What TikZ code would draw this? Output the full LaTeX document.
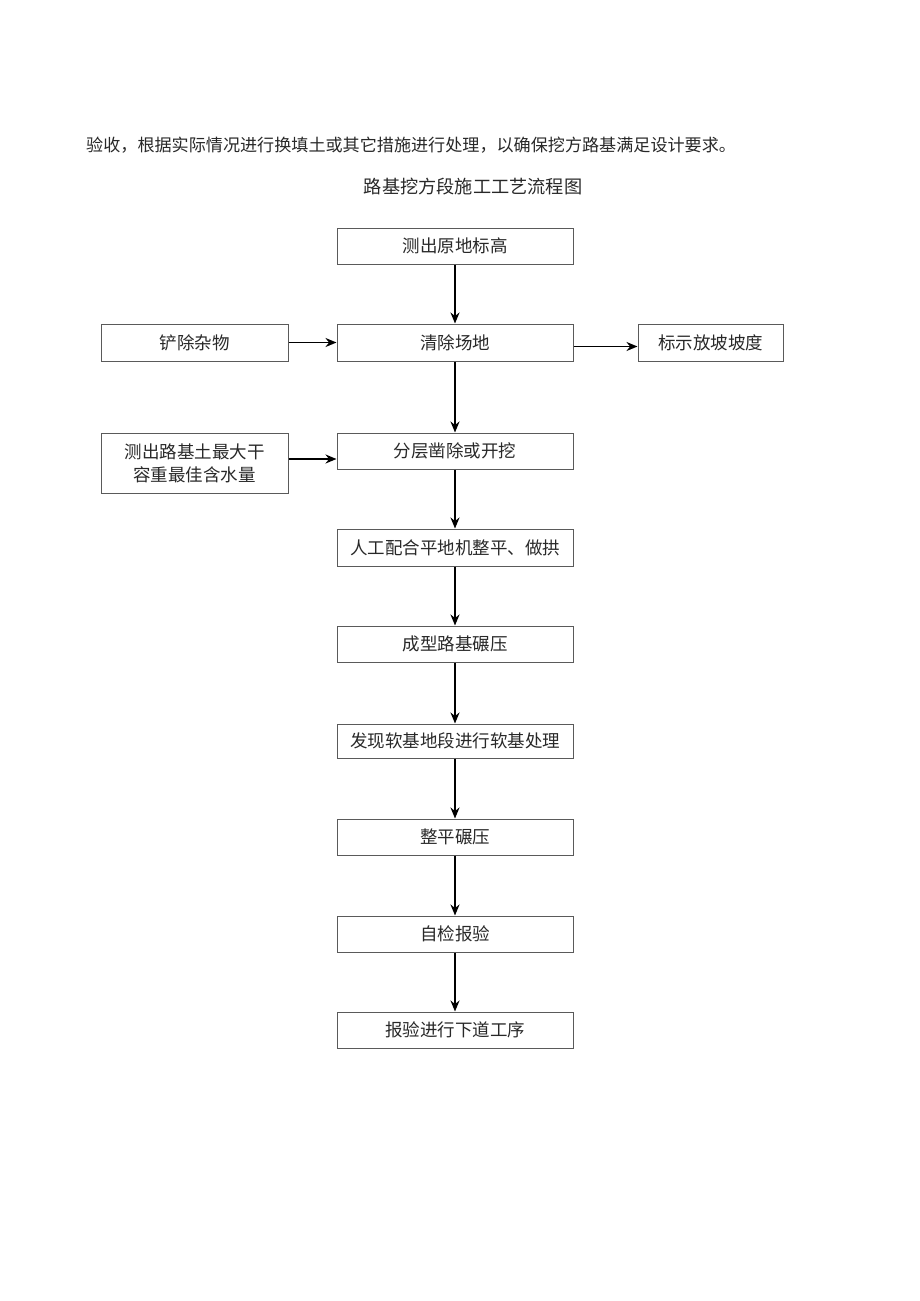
\documentclass[tikz,border=0pt]{standalone}
\usepackage{fontspec}
\newfontfamily\cjk{Noto Sans CJK SC}
\usetikzlibrary{arrows.meta}
\definecolor{boxline}{RGB}{90,90,90}
\definecolor{txt}{RGB}{40,40,40}
\begin{document}
\begin{tikzpicture}[x=1pt,y=-1pt,
    box/.style={draw=boxline, line width=1pt, minimum width=236pt, minimum height=36pt, inner sep=0pt, align=center, text=txt, font=\cjk\fontsize{17.5}{23}\selectfont},
    sidebox/.style={box, minimum width=187pt},
    flow/.style={-{Stealth[length=11pt,width=9pt]}, line width=1.8pt, black}]
    \useasboundingbox (0,0) rectangle (920,1301);

    % Text Node
    \node (intro) [anchor=west, inner sep=0pt, text=txt, font=\cjk\fontsize{17.1}{20}\selectfont] at (86,145) {验收，根据实际情况进行换填土或其它措施进行处理，以确保挖方路基满足设计要求。};
    % Text Node
    \node (title) [inner sep=0pt, text=txt, font=\cjk\fontsize{18.2}{20}\selectfont] at (473,187) {路基挖方段施工工艺流程图};

    % main column
    \node (ycg) [box] at (455,246) {测出原地标高};
    \node (qccd) [box, minimum height=37pt] at (455,342.5) {清除场地};
    \node (fckw) [box] at (455,451) {分层凿除或开挖};
    \node (rgph) [box, minimum height=37pt] at (455,547.5) {人工配合平地机整平、做拱};
    \node (cxny) [box] at (455,644) {成型路基碾压};
    \node (rjcl) [box, minimum height=34pt] at (455,741) {发现软基地段进行软基处理};
    \node (zpny) [box] at (455,837) {整平碾压};
    \node (zjby) [box] at (455,934) {自检报验};
    \node (xdgx) [box] at (455,1030) {报验进行下道工序};

    % side boxes
    \node (cczw) [sidebox, minimum height=37pt] at (194.5,342.5) {铲除杂物};
    \node (bsfp) [box, minimum width=145pt, minimum height=37pt] at (710.5,342.5) {标示放坡坡度};
    \node (ljtl) [sidebox, minimum height=60pt] at (194.5,463) {测出路基土最大干\\容重最佳含水量};

    % arrows
    \draw [flow] (ycg) -- (qccd);
    \draw [flow] (qccd) -- (fckw);
    \draw [flow] (fckw) -- (rgph);
    \draw [flow] (rgph) -- (cxny);
    \draw [flow] (cxny) -- (rjcl);
    \draw [flow] (rjcl) -- (zpny);
    \draw [flow] (zpny) -- (zjby);
    \draw [flow] (zjby) -- (xdgx);
    \draw [flow] (cczw) -- (qccd);
    \draw [flow] ([yshift=-4pt]qccd.east) -- ([yshift=-4pt]qccd.east -| bsfp.west);
    \draw [flow] ([yshift=4pt]ljtl.east) -- ([yshift=4pt]ljtl.east -| fckw.west);

\end{tikzpicture}
\end{document}
